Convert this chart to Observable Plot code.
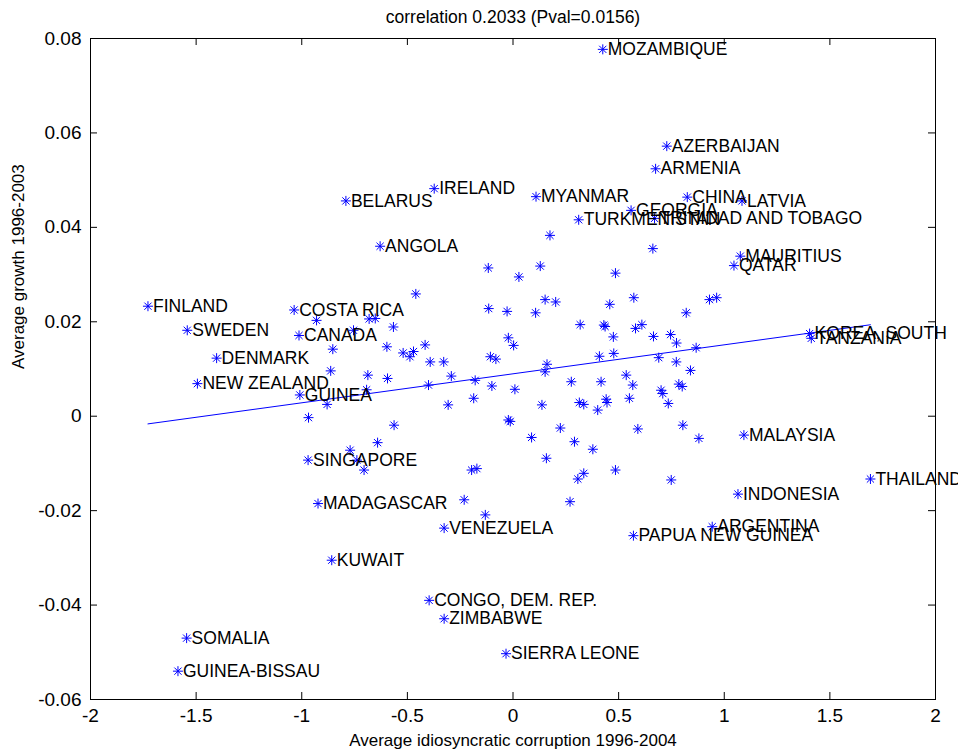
<!DOCTYPE html>
<html><head><meta charset="utf-8">
<script src="https://cdn.jsdelivr.net/npm/d3@7"></script>
<script src="https://cdn.jsdelivr.net/npm/@observablehq/plot@0.6"></script>
<style>html,body{margin:0;padding:0;background:#fff}svg{display:block}</style>
</head><body><div id="chart"></div>
<script>
const title = "correlation 0.2033 (Pval=0.0156)";
const xLabel = "Average idiosyncratic corruption 1996-2004";
const yLabel = "Average growth 1996-2003";
const xTicks = [-2, -1.5, -1, -0.5, 0, 0.5, 1, 1.5, 2];
const xTickLabels = ["-2", "-1.5", "-1", "-0.5", "0", "0.5", "1", "1.5", "2"];
const yTicks = [-0.06, -0.04, -0.02, 0, 0.02, 0.04, 0.06, 0.08];
const yTickLabels = ["-0.06", "-0.04", "-0.02", "0", "0.02", "0.04", "0.06", "0.08"];

const labeledNames = ["MOZAMBIQUE","AZERBAIJAN","ARMENIA","IRELAND","BELARUS","MYANMAR","CHINA","LATVIA","GEORGIA","TRINIDAD AND TOBAGO","TURKMENISTAN","ANGOLA","MAURITIUS","QATAR","FINLAND","COSTA RICA","SWEDEN","CANADA","KOREA, SOUTH","TANZANIA","DENMARK","NEW ZEALAND","GUINEA","MALAYSIA","SINGAPORE","THAILAND","INDONESIA","MADAGASCAR","VENEZUELA","ARGENTINA","PAPUA NEW GUINEA","KUWAIT","CONGO, DEM. REP.","ZIMBABWE","SOMALIA","SIERRA LEONE","GUINEA-BISSAU"];
const labeledX = [0.425,0.728,0.675,-0.373,-0.791,0.109,0.825,1.084,0.559,0.670,0.311,-0.629,1.076,1.046,-1.728,-1.036,-1.542,-1.013,1.404,1.412,-1.403,-1.494,-1.009,1.093,-0.970,1.692,1.065,-0.923,-0.326,0.943,0.570,-0.858,-0.397,-0.326,-1.545,-0.033,-1.586];
const labeledY = [0.0777,0.0572,0.0524,0.0482,0.0456,0.0465,0.0464,0.0456,0.0436,0.0419,0.0416,0.0360,0.0339,0.0319,0.0233,0.0225,0.0182,0.0171,0.0175,0.0165,0.0123,0.0069,0.0045,-0.0040,-0.0093,-0.0133,-0.0165,-0.0185,-0.0237,-0.0234,-0.0253,-0.0305,-0.0390,-0.0429,-0.0470,-0.0503,-0.0540];

const otherX = [0.175,-0.117,-0.460,-0.115,-0.930,-0.681,-0.652,-0.566,-0.755,-0.853,-0.597,-0.520,-0.471,-0.488,-0.416,-0.392,-0.328,-0.107,-0.081,-0.863,-0.687,-0.594,-0.292,-0.179,-0.400,-0.100,-0.693,-0.186,-0.880,-0.307,-0.968,-0.563,
0.662,0.129,0.028,0.485,0.152,0.202,0.458,0.572,0.930,-0.028,0.107,0.820,0.318,0.430,0.436,0.580,0.610,0.475,0.665,0.746,0.774,-0.022,0.003,0.867,0.409,0.477,0.690,0.773,0.840,0.161,0.152,0.536,0.567,0.276,0.417,0.009,0.701,0.709,0.785,0.801,0.137,0.314,0.335,0.441,0.445,0.551,0.735,0.401,-0.022,-0.013,0.224,0.591,0.804,
0.964,-0.641,-0.771,-0.739,-0.705,-0.196,-0.171,-0.231,
0.880,0.088,0.291,0.378,0.158,0.335,0.307,0.485,0.749,0.270,-0.131];
const otherY = [0.0383,0.0314,0.0259,0.0228,0.0203,0.0206,0.0207,0.0189,0.0182,0.0142,0.0147,0.0134,0.0137,0.0126,0.0151,0.0115,0.0115,0.0126,0.0121,0.0096,0.0087,0.0080,0.0085,0.0076,0.0066,0.0064,0.0056,0.0038,0.0025,0.0024,-0.0003,-0.0019,
0.0355,0.0318,0.0295,0.0303,0.0247,0.0242,0.0237,0.0251,0.0247,0.0222,0.0219,0.0219,0.0194,0.0193,0.0190,0.0186,0.0194,0.0168,0.0169,0.0173,0.0155,0.0166,0.0150,0.0145,0.0127,0.0133,0.0124,0.0115,0.0097,0.0110,0.0094,0.0087,0.0066,0.0073,0.0073,0.0057,0.0055,0.0048,0.0068,0.0063,0.0024,0.0029,0.0025,0.0036,0.0029,0.0038,0.0027,0.0013,-0.0008,-0.0011,-0.0025,-0.0027,-0.0019,
0.0251,-0.0056,-0.0072,-0.0093,-0.0114,-0.0114,-0.0111,-0.0177,
-0.0047,-0.0045,-0.0054,-0.0070,-0.0089,-0.0121,-0.0133,-0.0114,-0.0135,-0.0181,-0.0209];

const labeled = labeledNames.map((name, i) => ({name, x: labeledX[i], y: labeledY[i]}));
const others = otherX.map((x, i) => ({x, y: otherY[i]}));
const all = labeled.concat(others);

const W = 958, H = 751, mL = 90, mR = 23, mT = 38, mB = 52;
const plotW = W - mL - mR, plotH = H - mT - mB;
const TL = 7;
const blue = "#0000ff";
const font = "'Liberation Sans', Arial, Helvetica, sans-serif";

const star = {
  draw(ctx, size) {
    const r = Math.sqrt(size / Math.PI);
    const d = r * 0.72;
    ctx.moveTo(-r, 0); ctx.lineTo(r, 0);
    ctx.moveTo(0, -r); ctx.lineTo(0, r);
    ctx.moveTo(-d, -d); ctx.lineTo(d, d);
    ctx.moveTo(-d, d); ctx.lineTo(d, -d);
  }
};

const chart = Plot.plot({
  width: W, height: H,
  marginLeft: mL, marginRight: mR, marginTop: mT, marginBottom: mB,
  style: {fontFamily: font, fontSize: "17px", background: "#fff", color: "#000", overflow: "visible"},
  x: {domain: [-2, 2]},
  y: {domain: [-0.06, 0.08]},
  marks: [
    Plot.axisX(xTicks, {tickSize: 0, tickPadding: 9, label: null, fontSize: 19,
      tickFormat: d => xTickLabels[xTicks.indexOf(d)]}),
    Plot.axisY(yTicks, {tickSize: 0, tickPadding: 9, label: null, fontSize: 19,
      tickFormat: d => yTickLabels[yTicks.indexOf(d)]}),
    Plot.ruleX(xTicks, {x: d => d, insetTop: plotH - TL, stroke: "#000"}),
    Plot.ruleX(xTicks, {x: d => d, insetBottom: plotH - TL, stroke: "#000"}),
    Plot.ruleY(yTicks, {y: d => d, insetRight: plotW - TL, stroke: "#000"}),
    Plot.ruleY(yTicks, {y: d => d, insetLeft: plotW - TL, stroke: "#000"}),
    Plot.frame({stroke: "#000"}),
    Plot.linearRegressionY(all, {x: "x", y: "y", stroke: blue, strokeWidth: 1, ci: 0}),
    Plot.dot(all, {x: "x", y: "y", symbol: star, r: 5, stroke: blue, fill: "none", strokeWidth: 1}),
    Plot.text(labeled, {x: "x", y: "y", text: "name", textAnchor: "start", dx: 5, fontSize: 17.5, fill: "#000"}),
    Plot.text([title], {frameAnchor: "top", lineAnchor: "middle", dy: -21, fontSize: 17.5, fill: "#000"}),
    Plot.text([xLabel], {frameAnchor: "bottom", lineAnchor: "middle", dy: 41, fontSize: 17, fill: "#000"}),
    Plot.text([yLabel], {frameAnchor: "left", lineAnchor: "middle", dx: -72, rotate: -90, fontSize: 17, fill: "#000"})
  ]
});
document.getElementById("chart").appendChild(chart);
</script>
</body></html>
